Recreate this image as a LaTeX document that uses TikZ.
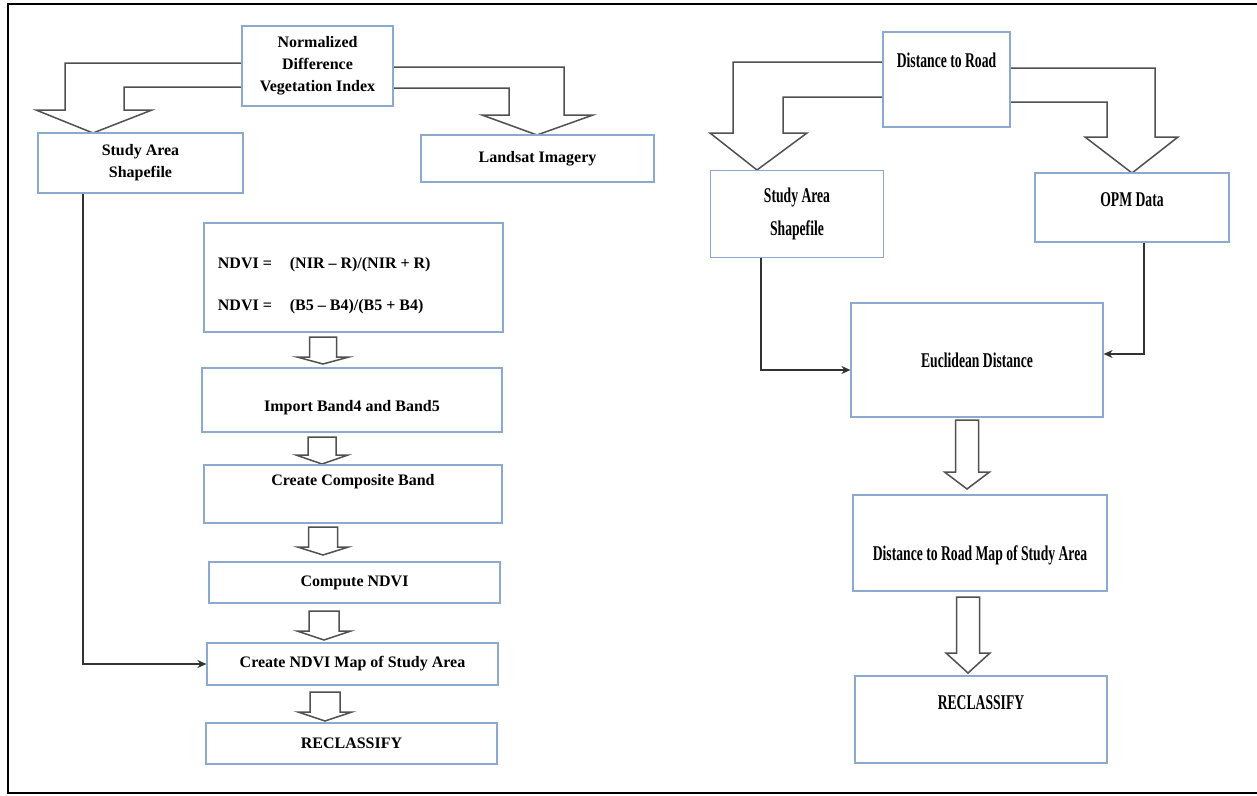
\documentclass[tikz,border=0pt]{standalone}
\usepackage{fontspec}
\setmainfont{Liberation Serif}
\newfontfamily\condfont{Liberation Serif}[FakeStretch=0.65]
\usetikzlibrary{calc,backgrounds,arrows.meta}

\definecolor{boxblue}{RGB}{140,170,208}
\definecolor{arrowgray}{RGB}{80,80,80}
\definecolor{conngray}{RGB}{50,50,50}

\newcommand{\hollowdown}[6]{\draw[hollow] (#1-#5,#2) -- (#1+#5,#2) -- (#1+#5,#3) -- (#1+#6,#3) -- (#1,#4) -- (#1-#6,#3) -- (#1-#5,#3) -- cycle;}

\begin{document}
\begin{tikzpicture}[x=1pt, y=-1pt,
	box/.style={draw=boxblue, line width=1.2pt, fill=white, rectangle, inner sep=0pt, align=center},
	ltxt/.style={font=\fontsize{16}{22}\selectfont\bfseries},
	rtxt/.style={font=\condfont\fontsize{21}{33}\selectfont\bfseries},
	hollow/.style={draw=arrowgray, line width=1.5pt, fill=white, line join=miter},
	conn/.style={draw=conngray, line width=1.3pt, ->, >={Stealth[length=9pt,width=8pt]}}]
				\useasboundingbox (0,0) rectangle (1257,795);
				\draw[line width=2.5pt] (8,4) rectangle (1266,793);

				% NDVI side
				\node[box, ltxt, minimum width=151pt, minimum height=80pt] (ndvi) at (317.5,66) {Normalized\\Difference\\Vegetation Index};
				\node[box, ltxt, minimum width=205pt, minimum height=60pt] (studyL) at (140.5,163) {Study Area\\Shapefile};
				\node[box, ltxt, minimum width=233pt, minimum height=47pt] (landsat) at (537.5,158.5) {Landsat Imagery};
				\node[box, minimum width=299pt, minimum height=109pt, label={[font=\fontsize{16}{42}\selectfont\bfseries, align=left, anchor=west, xshift=11pt, yshift=-8.5pt]west:{\makebox[72pt][l]{NDVI =}(NIR -- R)/(NIR + R)\\\makebox[72pt][l]{NDVI =}(B5 -- B4)/(B5 + B4)}}] (formula) at (353.5,277.5) {};
				\node[box, minimum width=300pt, minimum height=64pt, label={[ltxt, yshift=-8pt]center:Import Band4 and Band5}] (importb) at (352,400) {};
				\node[box, minimum width=298pt, minimum height=58pt, label={[ltxt, yshift=12pt]center:Create Composite Band}] (composite) at (353,494) {};
				\node[box, ltxt, minimum width=291pt, minimum height=41pt] (compute) at (354.5,582.5) {Compute NDVI};
				\node[box, ltxt, minimum width=291pt, minimum height=42pt] (mapndvi) at (352.5,664) {Create NDVI Map of Study Area};
				\node[box, ltxt, minimum width=291pt, minimum height=41pt] (reclassL) at (351.5,743.5) {RECLASSIFY};

				% road side
				\node[box, minimum width=127pt, minimum height=95pt, label={[rtxt, yshift=19.5pt]center:Distance to Road}] (road) at (946.5,79.5) {};
				\node[box, rtxt, minimum width=173pt, minimum height=87pt] (studyR) at (797,214) {Study Area\\Shapefile};
				\node[box, minimum width=194pt, minimum height=69pt, label={[rtxt, yshift=7.5pt]center:OPM Data}] (opm) at (1132,207.5) {};
				\node[box, rtxt, minimum width=252pt, minimum height=114pt] (euclid) at (977,360) {Euclidean Distance};
				\node[box, minimum width=254pt, minimum height=96pt, label={[rtxt, yshift=-12pt]center:Distance to Road Map of Study Area}] (roadmap) at (980,543) {};
				\node[box, minimum width=252pt, minimum height=87pt, label={[rtxt, yshift=16.5pt]center:RECLASSIFY}] (reclassR) at (981,719.5) {};

				\begin{pgfonlayer}{background}
				\draw[hollow] (ndvi.west |- 0,63) -- (65,63) -- (65,110) -- (36,110) -- (93,133) -- (152,110) -- (124,110) -- (124,87) -- (ndvi.west |- 0,87);
				\draw[hollow] (ndvi.east |- 0,67) -- (564,67) -- (564,115) -- (593,115) -- (537,135) -- (482,115) -- (509,115) -- (509,88) -- (ndvi.east |- 0,88);
				\draw[hollow] (road.west |- 0,62) -- (733,62) -- (733,133) -- (710,133) -- (757,170) -- (807,133) -- (783,133) -- (783,97) -- (road.west |- 0,97);
				\draw[hollow] (road.east |- 0,68) -- (1155,68) -- (1155,137) -- (1178,137) -- (1132,173) -- (1085,137) -- (1107,137) -- (1107,102) -- (road.east |- 0,102);
				\hollowdown{323}{337}{357}{364}{13.5}{26}
				\hollowdown{322}{437}{455}{464}{14}{26}
				\hollowdown{323}{527}{547}{555}{14.5}{25.5}
				\hollowdown{324}{611}{631}{640}{15}{27}
				\hollowdown{325}{692}{712}{721}{15}{27}
				\hollowdown{967}{420}{472}{489}{11.5}{22.5}
				\hollowdown{968}{597}{653}{673}{11.5}{22}
				\end{pgfonlayer}

				\draw[conn] (studyL.south -| 83,0) |- (mapndvi.west);
				\draw[conn] (studyR.south -| 761,0) |- ($(euclid.west)+(0,10)$);
				\draw[conn] (opm.south -| 1144,0) |- ($(euclid.east)+(0,-6)$);
			\end{tikzpicture}
\end{document}
